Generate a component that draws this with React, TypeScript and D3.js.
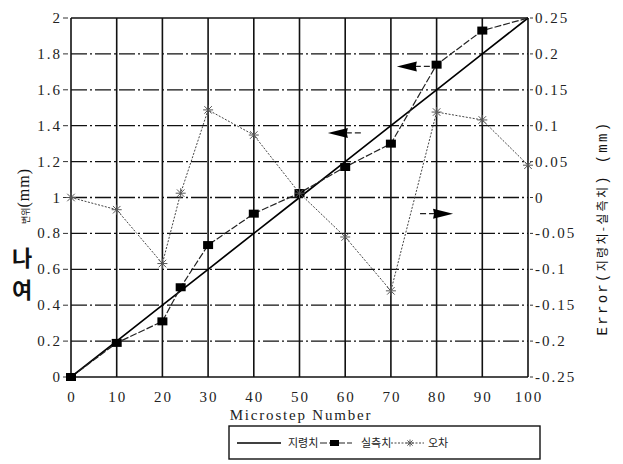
import React from 'react';
import * as d3 from 'd3';

const commandSteps = [0, 10, 20, 30, 40, 50, 60, 70, 80, 90, 100];
const commandValues = [0, 0.2, 0.4, 0.6, 0.8, 1.0, 1.2, 1.4, 1.6, 1.8, 2.0];
const measuredSteps = [0, 10, 20, 24, 30, 40, 50, 60, 70, 80, 90, 100];
const measuredValues = [0, 0.19, 0.31, 0.5, 0.735, 0.91, 1.025, 1.17, 1.3, 1.74, 1.93, 2.0];
const errorSteps = [0, 10, 20, 24, 30, 40, 50, 60, 70, 80, 90, 100];
const errorValues = [0, -0.017, -0.092, 0.006, 0.122, 0.087, 0.006, -0.055, -0.13, 0.119, 0.108, 0.045];
const xTicks = [0, 10, 20, 30, 40, 50, 60, 70, 80, 90, 100];
const leftTicks = [0, 0.2, 0.4, 0.6, 0.8, 1, 1.2, 1.4, 1.6, 1.8, 2];
const rightTicks = [-0.25, -0.2, -0.15, -0.1, -0.05, 0, 0.05, 0.1, 0.15, 0.2, 0.25];
const legendLabels = ['지령치', '실측치', '오차'];
// annotation arrows: [step, left value, direction]
const arrowX = [56.2, 71.3, 83.6];
const arrowY = [1.36, 1.73, 0.91];
const arrowDir = [-1, -1, 1];

const W = 623, H = 464;
const serif = '"Liberation Serif", "DejaVu Serif", serif';
const kr = '"Noto Sans CJK KR", sans-serif';

export default function App() {
  const x = d3.scaleLinear().domain([0, 100]).range([71, 528]);
  const yL = d3.scaleLinear().domain([0, 2]).range([377, 18]);
  const yR = d3.scaleLinear().domain([-0.25, 0.25]).range([377, 18]);

  const cmdLine = d3.line<number>().x((_, i) => x(commandSteps[i])).y(d => yL(d))(commandValues) || '';
  const measLine = d3.line<number>().x((_, i) => x(measuredSteps[i])).y(d => yL(d))(measuredValues) || '';
  const errLine = d3.line<number>().x((_, i) => x(errorSteps[i])).y(d => yR(d))(errorValues) || '';

  const star = (cx: number, cy: number, r: number, key: any) => (
    <g key={key} stroke="#555" strokeWidth={1}>
      <line x1={cx - r} y1={cy} x2={cx + r} y2={cy} />
      <line x1={cx} y1={cy - r} x2={cx} y2={cy + r} />
      <line x1={cx - r * 0.75} y1={cy - r * 0.75} x2={cx + r * 0.75} y2={cy + r * 0.75} />
      <line x1={cx - r * 0.75} y1={cy + r * 0.75} x2={cx + r * 0.75} y2={cy - r * 0.75} />
    </g>
  );

  const fmt = (v: number) => String(v);

  return (
    <svg width={W} height={H} style={{ position: 'absolute', left: 0, top: 0, background: '#fff' }}>
      <rect x={0} y={0} width={W} height={H} fill="#fff" />
      {/* horizontal grid */}
      {leftTicks.map((t, i) => (
        <line key={'h' + i} x1={x(0)} x2={x(100)} y1={yL(t)} y2={yL(t)}
          stroke="#111" strokeWidth={1.3} strokeDasharray={t === 0 || t === 2 ? undefined : '16,3,2,3'} />
      ))}
      {/* vertical grid */}
      {xTicks.map((t, i) => (
        <line key={'v' + i} x1={x(t)} x2={x(t)} y1={yL(2)} y2={yL(0)} stroke="#111" strokeWidth={1.6} />
      ))}
      {/* left ticks and labels */}
      {leftTicks.map((t, i) => (
        <g key={'lt' + i}>
          <line x1={x(0) - 8} x2={x(0) - 3} y1={yL(t)} y2={yL(t)} stroke="#333" strokeWidth={1} />
          <text x={x(0) - 9} y={yL(t) + 5} textAnchor="end" fontFamily={serif} fontSize={15}
            letterSpacing={2} fill="#222">{fmt(t)}</text>
        </g>
      ))}
      {/* right ticks and labels */}
      {rightTicks.map((t, i) => (
        <g key={'rt' + i}>
          <line x1={x(100) + 2} x2={x(100) + 5} y1={yR(t)} y2={yR(t)} stroke="#333" strokeWidth={1} />
          <text x={x(100) + 7} y={yR(t) + 5} textAnchor="start" fontFamily={serif} fontSize={15}
            letterSpacing={2} fill="#222">{fmt(t)}</text>
        </g>
      ))}
      {/* bottom labels */}
      {xTicks.map((t, i) => (
        <text key={'xt' + i} x={x(t) + 1} y={402} textAnchor="middle" fontFamily={serif} fontSize={15}
          letterSpacing={2} fill="#222">{fmt(t)}</text>
      ))}
      <text x={301} y={420} textAnchor="middle" fontFamily={serif} fontSize={15} letterSpacing={1.8} fill="#222">
        Microstep Number
      </text>

      {/* series */}
      <path d={cmdLine} fill="none" stroke="#000" strokeWidth={1.7} />
      <path d={measLine} fill="none" stroke="#222" strokeWidth={1.2} strokeDasharray="7,2" />
      <path d={errLine} fill="none" stroke="#444" strokeWidth={1} strokeDasharray="2,1.5" />
      {measuredValues.map((v, i) => i < measuredValues.length - 1 ? (
        <rect key={'m' + i} x={x(measuredSteps[i]) - 5} y={yL(v) - 4} width={10} height={8} fill="#000" />
      ) : null)}
      {errorValues.map((v, i) => star(x(errorSteps[i]), yR(v), 5, 'e' + i))}

      {/* annotation arrows */}
      {arrowX.map((ax, i) => {
        const px = x(ax), py = yL(arrowY[i]), d = arrowDir[i];
        const tri = `M${px},${py} L${px - d * 20},${py - 5} L${px - d * 15},${py} L${px - d * 20},${py + 5} Z`;
        return (
          <g key={'a' + i}>
            <line x1={px - d * 18} x2={px - d * 36} y1={py} y2={py} stroke="#222" strokeWidth={1.2} strokeDasharray="6,3" />
            <path d={`M${px},${py} L${px - d * 20},${py - 5} L${px - d * 19},${py} L${px - d * 20},${py + 5} Z`} fill="#000" />
          </g>
        );
      })}

      {/* left title */}
      <text transform="translate(29,196) rotate(-90)" textAnchor="middle" fill="#111">
        <tspan fontFamily={kr} fontSize={9}>변위</tspan>
        <tspan fontFamily={serif} fontSize={16} letterSpacing={1}>(mm)</tspan>
      </text>
      <text x={22} y={266} textAnchor="middle" fontFamily={kr} fontWeight={700} fontSize={22} fill="#111">나</text>
      <text x={22} y={298} textAnchor="middle" fontFamily={kr} fontWeight={700} fontSize={22} fill="#111">여</text>

      {/* right title */}
      <text transform="translate(607,228) rotate(-90)" textAnchor="middle" fill="#111"
        fontFamily='"Liberation Mono", monospace' fontSize={14} letterSpacing={2.3}>
        Error(<tspan fontFamily={kr} fontSize={12}>지령치-실측치</tspan>) (mm)
      </text>

      {/* legend */}
      <rect x={229} y={426} width={311} height={33} fill="#fff" stroke="#111" strokeWidth={1.4} />
      <line x1={237} x2={281} y1={443} y2={443} stroke="#000" strokeWidth={1.4} />
      <text x={288} y={447} fontFamily={kr} fontSize={11} fill="#222">{legendLabels[0]}</text>
      <line x1={320} x2={352} y1={443} y2={443} stroke="#222" strokeWidth={1.2} strokeDasharray="7,2" />
      <rect x={330} y={440} width={9} height={6} fill="#000" />
      <text x={361} y={447} fontFamily={kr} fontSize={11} fill="#222">{legendLabels[1]}</text>
      <line x1={391} x2={424} y1={443} y2={443} stroke="#444" strokeWidth={1} strokeDasharray="2,1.5" />
      {star(410, 443, 3.5, 'ls')}
      <text x={428} y={447} fontFamily={kr} fontSize={11} fill="#222">{legendLabels[2]}</text>
    </svg>
  );
}
